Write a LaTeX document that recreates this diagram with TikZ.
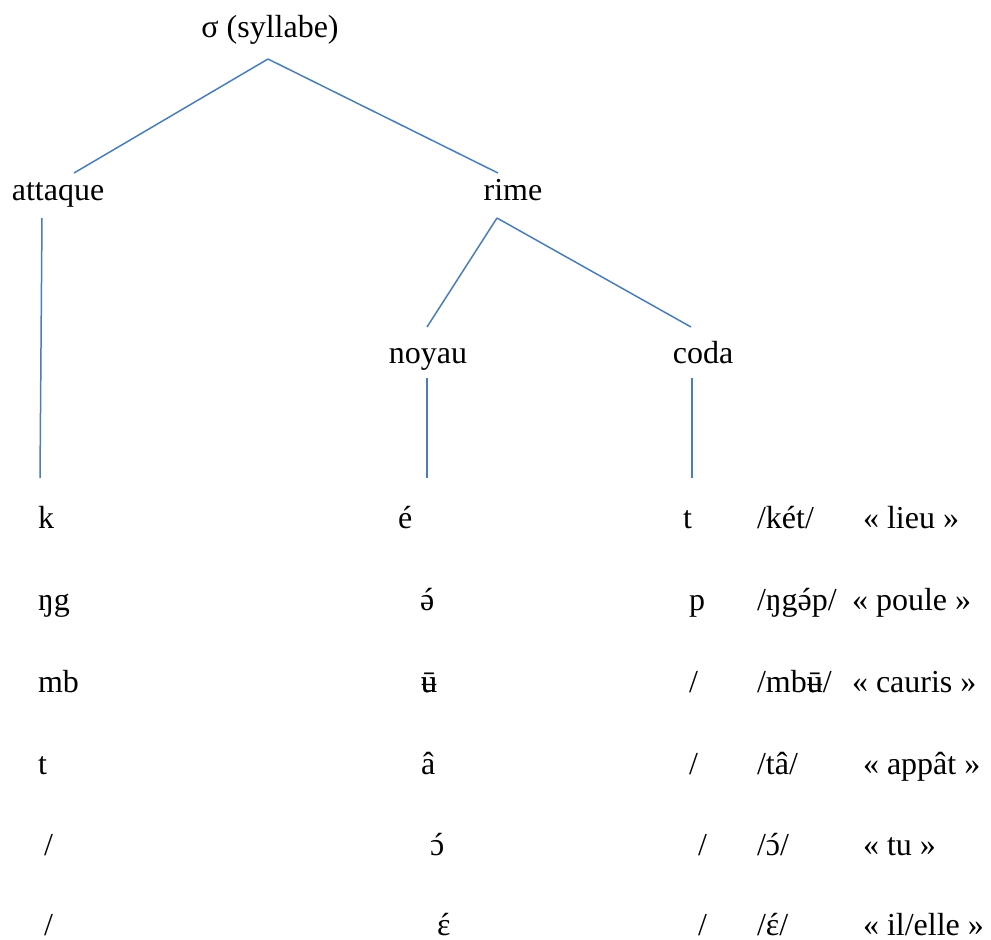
\documentclass[tikz,border=0pt]{standalone}
\usepackage{fontspec}
\setmainfont{Liberation Serif}
\definecolor{linkblue}{HTML}{4A7EBB}
\newcommand{\stackacc}[2]{\ooalign{#1\cr\hidewidth#2\hidewidth\cr}}
\newcommand{\acu}[1]{\stackacc{#1}{\kern0.08em´}}
\newcommand{\ubar}{\stackacc{ʉ}{ū}}
\tikzset{
  lbl/.style={inner sep=0pt, outer sep=0pt, font=\fontsize{32}{38}\selectfont, anchor=base},
  cell/.style={lbl, anchor=base west},
  link/.style={draw=linkblue, line width=1.5pt}
}
\begin{document}
\begin{tikzpicture}[x=1pt, y=-1pt]
\useasboundingbox (0,0) rectangle (991,940);
% tree labels
\node[lbl] (sig) at (270,37) {σ (syllabe)};
\node[lbl] (att) at (58,200) {attaque};
\node[lbl] (rim) at (513,200) {rime};
\node[lbl] (noy) at (428,363) {noyau};
\node[lbl] (cod) at (703,363) {coda};
% rows
\def\ra{528}\def\rb{610}\def\rc{692}\def\rd{774}\def\re{855}\def\rf{935}
\node[cell] (a1) at (38,\ra) {k};
\node[cell] (a2) at (38,\rb) {ŋg};
\node[cell] (a3) at (38,\rc) {mb};
\node[cell] (a4) at (38,\rd) {t};
\node[cell] (a5) at (44,\re) {/};
\node[cell] (a6) at (44,\rf) {/};
\node[cell] (b1) at (398,\ra) {é};
\node[cell] (b2) at (420,\rb) {\acu{ə}};
\node[cell] (b3) at (421,\rc) {\ubar};
\node[cell] (b4) at (421,\rd) {â};
\node[cell] (b5) at (430,\re) {\acu{ɔ}};
\node[cell] (b6) at (437,\rf) {\acu{ɛ}};
\node[cell] (c1) at (683,\ra) {t};
\node[cell] (c2) at (689,\rb) {p};
\node[cell] (c3) at (689,\rc) {/};
\node[cell] (c4) at (689,\rd) {/};
\node[cell] (c5) at (698,\re) {/};
\node[cell] (c6) at (698,\rf) {/};
\node[cell] (d1) at (757,\ra) {/két/};
\node[cell] (d2) at (757,\rb) {/ŋg\acu{ə}p/};
\node[cell] (d3) at (757,\rc) {/mb\ubar/};
\node[cell] (d4) at (757,\rd) {/tâ/};
\node[cell] (d5) at (757,\re) {/\acu{ɔ}/};
\node[cell] (d6) at (757,\rf) {/\acu{ɛ}/};
\node[cell] (e1) at (863,\ra) {« lieu »};
\node[cell] (e2) at (852,\rb) {« poule »};
\node[cell] (e3) at (852,\rc) {« cauris »};
\node[cell] (e4) at (863,\rd) {« appât »};
\node[cell] (e5) at (863,\re) {« tu »};
\node[cell] (e6) at (863,\rf) {« il/elle »};
% connectors
\draw[link] ([shift={(-2,22)}]sig.base) -- ([shift={(16,-27)}]att.base);
\draw[link] ([shift={(-2,22)}]sig.base) -- ([shift={(-15,-27)}]rim.base);
\draw[link] ([shift={(-16,18)}]att.base) -- ([shift={(2,-50)}]a1.base west);
\draw[link] ([shift={(-16,18)}]rim.base) -- ([shift={(-1,-36)}]noy.base);
\draw[link] ([shift={(-16,18)}]rim.base) -- ([shift={(-12,-36)}]cod.base);
\draw[link] ([shift={(-1,15)}]noy.base) -- ([shift={(29,-50)}]b1.base west);
\draw[link] ([shift={(-11,15)}]cod.base) -- ([shift={(9,-50)}]c1.base west);
\end{tikzpicture}
\end{document}
